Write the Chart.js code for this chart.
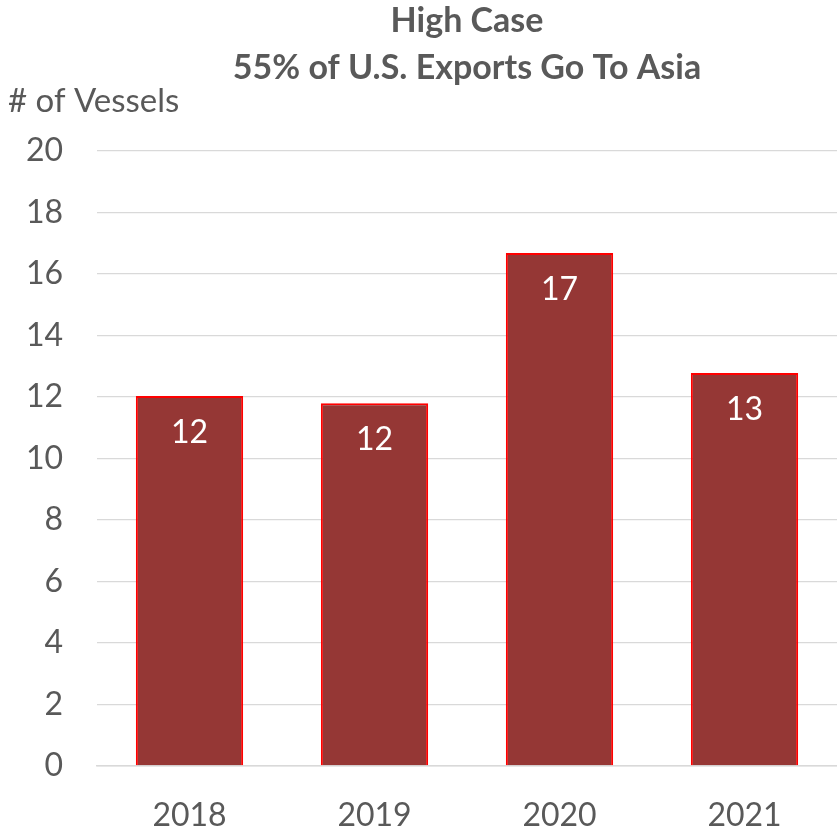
<!DOCTYPE html>
<html><head><meta charset="utf-8">
<script src="https://cdn.jsdelivr.net/npm/chart.js@4"></script>
<style>html,body{margin:0;padding:0;background:#fff}#wrap{width:837px;height:837px}</style>
</head><body><div id="wrap"><canvas id="c" width="837" height="837"></canvas></div>
<script>
const categories = ["2018", "2019", "2020", "2021"];
const vessels = [12.03, 11.8, 16.68, 12.78];
const dataLabels = ["12", "12", "17", "13"];
const titleLines = ["High Case", "55% of U.S. Exports Go To Asia"];
const yAxisTitle = "# of Vessels";

const FONT = "Lato, 'Open Sans', sans-serif";
const GREY = "#595959";

const overlay = {
  id: "overlay",
  afterDatasetsDraw(chart) {
    const ctx = chart.ctx;
    const ca = chart.chartArea;
    ctx.save();
    ctx.fillStyle = GREY;
    ctx.textAlign = "center";
    ctx.textBaseline = "middle";
    ctx.font = "bold 34px " + FONT;
    const cx = (ca.left + ca.right) / 2;
    ctx.fillText(titleLines[0], cx, 21);
    ctx.fillText(titleLines[1], cx, 68);
    ctx.font = "33px " + FONT;
    ctx.textAlign = "left";
    ctx.fillText(yAxisTitle, 8, 101);
    ctx.font = "32px " + FONT;
    ctx.fillStyle = "#ffffff";
    ctx.textAlign = "center";
    const meta = chart.getDatasetMeta(0);
    meta.data.forEach((bar, i) => {
      ctx.fillText(dataLabels[i], bar.x, bar.y + 37);
    });
    ctx.restore();
  }
};

new Chart(document.getElementById("c"), {
  type: "bar",
  data: {
    labels: categories,
    datasets: [{
      data: vessels,
      backgroundColor: "#953735",
      borderColor: "#ff0000",
      borderWidth: 2,
      barPercentage: 0.58,
      categoryPercentage: 1.0
    }]
  },
  options: {
    responsive: false,
    animation: false,
    layout: { padding: { top: 151, left: 0, right: 0, bottom: 0 } },
    plugins: { legend: { display: false }, tooltip: { enabled: false }, title: { display: false } },
    scales: {
      x: {
        afterFit: s => { s.height = 71; },
        grid: { display: false, drawTicks: false },
        border: { display: true, color: "#d9d9d9", width: 1.5 },
        ticks: { color: GREY, font: { family: FONT, size: 32 }, padding: 30 }
      },
      y: {
        afterFit: s => { s.width = 97; },
        min: 0, max: 20,
        grid: { color: "#d9d9d9", lineWidth: 1.3, drawTicks: false },
        border: { display: false },
        ticks: { stepSize: 2, color: GREY, font: { family: FONT, size: 32 }, padding: 34 }
      }
    }
  },
  plugins: [overlay]
});
</script>
</body></html>
